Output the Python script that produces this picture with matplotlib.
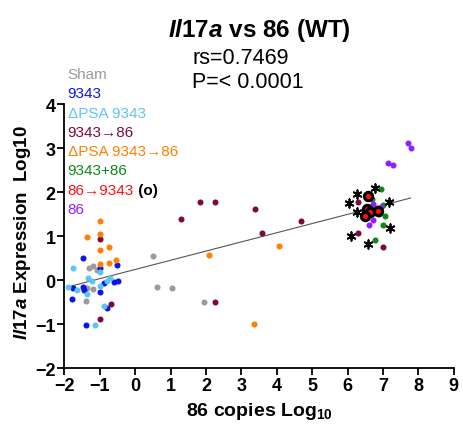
import matplotlib
matplotlib.use("Agg")
import matplotlib.pyplot as plt
import numpy as np

plt.rcParams["font.family"] = ["Liberation Sans", "DejaVu Sans"]
plt.rcParams["mathtext.fontset"] = "custom"
plt.rcParams["mathtext.rm"] = "Liberation Sans:bold"
plt.rcParams["mathtext.bf"] = "Liberation Sans:bold"
plt.rcParams["mathtext.it"] = "Liberation Sans:italic:bold"

# values (x = 86 copies log10, y = Il17a log10)
sham_x = [-1.30, -1.20, -1.09, -1.36, -1.20, -1.39, 0.50, 0.62, 1.05, 1.94]
sham_y = [0.28, 0.32, 0.24, -0.18, -0.19, -0.47, 0.56, -0.14, -0.18, -0.50]

b9343_x = [-1.49, -0.51, -1.00, -0.60, -0.49, -0.89, -1.75, -1.49, -1.45, -1.00, -1.79, -0.79, -1.39]
b9343_y = [0.50, 0.34, 0.29, -0.03, -0.01, -0.06, -0.18, -0.16, -0.22, -0.26, -0.42, -0.62, -1.01]

dpsa_x = [-1.75, -1.00, -1.33, -1.23, -0.72, -0.81, -1.00, -1.90, -1.64, -1.35, -0.89, -1.15]
dpsa_y = [0.28, 0.19, 0.05, -0.01, 0.05, -0.01, -0.12, -0.16, -0.21, -0.31, -0.59, -1.01]

to86_x = [-1.00, -0.70, -1.00, 1.29, 1.84, 2.24, 3.38, 3.59, 4.67, 2.24, 6.30, 6.29, 6.99]
to86_y = [0.94, -0.53, -0.88, 1.39, 1.78, 1.79, 1.63, 1.08, 1.35, -0.50, 1.78, 1.08, 0.75]

dpsa86_x = [-1.00, -1.37, -1.00, -1.00, -0.74, -1.00, -0.74, -0.55, 2.07, 4.06, 3.35]
dpsa86_y = [1.34, 0.98, 1.06, 0.68, 0.75, 0.37, 0.39, 0.47, 0.58, 0.78, -1.00]

plus86_x = [6.95, 6.69, 6.99, 6.90, 7.05, 6.99, 6.76]
plus86_y = [2.08, 1.85, 1.72, 1.50, 1.46, 1.25, 0.92]

rev_x = [6.57, 6.54, 6.62, 6.48, 6.85]
rev_y = [1.92, 1.63, 1.55, 1.47, 1.57]

only86_x = [7.72, 7.78, 7.15, 7.27, 6.73, 6.82, 6.95, 6.71, 6.59, 6.69]
only86_y = [3.13, 3.00, 2.68, 2.62, 1.74, 1.64, 1.66, 1.38, 1.26, 1.61]

star_x = [6.27, 6.76, 6.03, 7.18, 6.26, 7.20, 6.10, 6.58]
star_y = [1.97, 2.10, 1.76, 1.78, 1.56, 1.19, 1.00, 0.82]

groups = [
    ("Sham", sham_x, sham_y, "#9b9b9b"),
    ("9343", b9343_x, b9343_y, "#0a14f0"),
    ("\u0394PSA 9343", dpsa_x, dpsa_y, "#5ec4f4"),
    ("9343\u219286", to86_x, to86_y, "#7d0a3c"),
    ("\u0394PSA 9343\u219286", dpsa86_x, dpsa86_y, "#ff8000"),
    ("9343+86", plus86_x, plus86_y, "#0e8a14"),
    ("86\u21929343", rev_x, rev_y, "#ff1010"),
    ("86", only86_x, only86_y, "#9020ff"),
]

fig = plt.figure(figsize=(4.64, 4.27), dpi=100)
ax = fig.add_axes([0.139, 0.135, 0.839, 0.618])

# fit line from a least-squares fit of all points
all_x = np.concatenate([np.array(g[1]) for g in groups] + [np.array(star_x)])
all_y = np.concatenate([np.array(g[2]) for g in groups] + [np.array(star_y)])
slope, icpt = np.polyfit(all_x, all_y, 1)
xx = np.array([-1.8, all_x.max()])
ax.plot(xx, slope * xx + icpt, color="#555555", linewidth=0.8, zorder=1)

for name, x, y, color in groups:
    if name.startswith("86\u2192"):
        ax.scatter(x, y, s=36, facecolor=color, edgecolor="black", linewidth=2.2, zorder=4, clip_on=False)
    else:
        ax.scatter(x, y, s=19, color=color, linewidth=0, zorder=3, clip_on=False)
ax.scatter(star_x, star_y, s=38, marker=(6, 2, 0), color="black", linewidth=1.3, zorder=5)

ax.set_xlim(-2, 9)
ax.set_ylim(-2, 4)
ax.set_xticks(range(-2, 10))
ax.set_yticks(range(-2, 5))
for side in ("top", "right"):
    ax.spines[side].set_visible(False)
for side in ("left", "bottom"):
    ax.spines[side].set_linewidth(1.3)
ax.tick_params(length=5, width=1.3, pad=1.5, labelsize=13)
for lab in ax.get_xticklabels() + ax.get_yticklabels():
    lab.set_fontweight("bold")

ax.set_xlabel("86 copies Log$_{10}$", fontsize=14, fontweight="bold")
ax.xaxis.set_label_coords(0.5, -0.12)
ax.set_ylabel("$\\it{Il17a}$ Expression  Log10", fontsize=13.5, fontweight="bold")
ax.yaxis.set_label_coords(-0.082, 0.52)

fig.text(0.559, 0.928, "$\\it{Il17a}$ vs 86 (WT)", fontsize=17.5, fontweight="bold", ha="center", va="center")
fig.text(0.414, 0.864, "rs=0.7469", fontsize=15.5, ha="left", va="center")
fig.text(0.414, 0.807, "P=< 0.0001", fontsize=15.5, ha="left", va="center")

# legend as coloured text
y0 = 1 - 75 / 427
step = 19.3 / 427
for i, (name, x, y, color) in enumerate(groups):
    t = fig.text(0.146, y0 - i * step, name, color=color, fontsize=11, ha="left", va="center")
    if name.startswith("86\u2192"):
        fig.canvas.draw()
        ax.annotate(" (o)", xy=(1, 0.5), xycoords=t, va="center", ha="left",
                    fontsize=11, fontweight="bold", color="black", annotation_clip=False)

fig.savefig("out.png", dpi=100)
